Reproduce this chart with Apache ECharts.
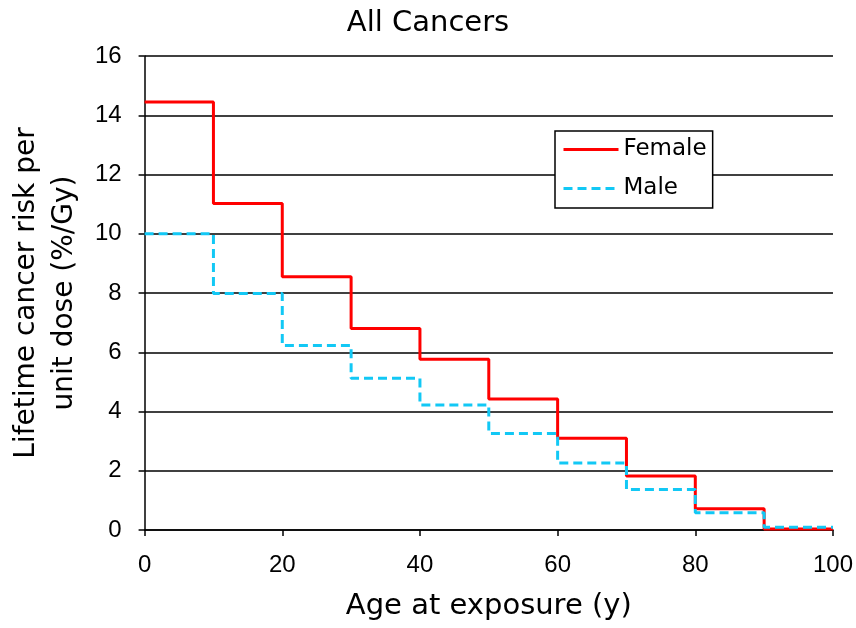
<!DOCTYPE html>
<html>
<head>
<meta charset="utf-8">
<script src="https://cdn.jsdelivr.net/npm/echarts@6/dist/echarts.min.js"></script>
<style>
  html, body { margin: 0; padding: 0; background: #fff; }
  #main { width: 856px; height: 628px; }
</style>
</head>
<body>
<div id="main"></div>
<script>
// age band start points (last one closes the final step at 100)
var ages = [0, 10, 20, 30, 40, 50, 60, 70, 80, 90, 100];
var female = [14.45, 11.02, 8.55, 6.8, 5.76, 4.42, 3.1, 1.82, 0.72, 0.03, 0.03];
var male = [10.0, 7.98, 6.23, 5.12, 4.22, 3.26, 2.26, 1.37, 0.58, 0.09, 0.09];

var font = 'DejaVu Sans';
var tickFont = 'Liberation Sans';

function pairs(vals) {
    return ages.map(function (a, i) { return [a, vals[i]]; });
}

var myChart = echarts.init(document.getElementById('main'));
var option = {
    animation: false,
    backgroundColor: '#fff',
    textStyle: { fontFamily: font },
    title: {
        text: 'All Cancers',
        left: 'center',
        top: 4,
        textStyle: { fontFamily: font, fontSize: 29, fontWeight: 'normal', color: '#000' }
    },
    legend: {
        orient: 'vertical',
        left: 555,
        top: 131,
        padding: [7, 6, 8, 7],
        itemGap: 16,
        itemWidth: 55,
        itemHeight: 14,
        backgroundColor: '#fff',
        borderColor: '#000',
        borderWidth: 1.5,
        itemStyle: { opacity: 0 },
        lineStyle: { width: 3 },
        textStyle: { fontFamily: font, fontSize: 23, color: '#000' },
        data: ['Female', 'Male']
    },
    grid: { left: 143, right: 21, top: 56, bottom: 98, containLabel: false },
    xAxis: {
        type: 'value',
        min: 0,
        max: 100,
        interval: 20,
        name: 'Age at exposure (y)',
        nameLocation: 'middle',
        nameGap: 62,
        nameTextStyle: { fontFamily: font, fontSize: 29, color: '#000' },
        axisLine: { lineStyle: { color: '#000', width: 1.5 } },
        axisTick: { show: true, length: 6, lineStyle: { color: '#000', width: 1.5 } },
        axisLabel: { fontFamily: tickFont, fontSize: 24, color: '#000', margin: 23 },
        splitLine: { show: false }
    },
    yAxis: {
        type: 'value',
        min: 0,
        max: 16,
        interval: 2,
        name: 'Lifetime cancer risk per\nunit dose (%/Gy)',
        nameLocation: 'middle',
        nameGap: 60,
        nameTextStyle: { fontFamily: font, fontSize: 28, color: '#000', lineHeight: 38 },
        axisLine: { show: true, lineStyle: { color: '#000', width: 1.5 } },
        axisTick: { show: true, length: 6, lineStyle: { color: '#000', width: 1.5 } },
        axisLabel: { fontFamily: tickFont, fontSize: 24, color: '#000', margin: 23 },
        splitLine: { lineStyle: { color: '#000', width: 1.5 } }
    },
    series: [
        {
            name: 'Female',
            type: 'line',
            step: 'end',
            symbol: 'none',
            data: pairs(female),
            lineStyle: { color: '#ff0000', width: 3 },
            itemStyle: { color: '#ff0000' },
            z: 3
        },
        {
            name: 'Male',
            type: 'line',
            step: 'end',
            symbol: 'none',
            data: pairs(male),
            lineStyle: { color: '#12c8f5', width: 3, type: [9, 5] },
            itemStyle: { color: '#12c8f5' },
            z: 4
        }
    ]
};
myChart.setOption(option);
</script>
</body>
</html>
